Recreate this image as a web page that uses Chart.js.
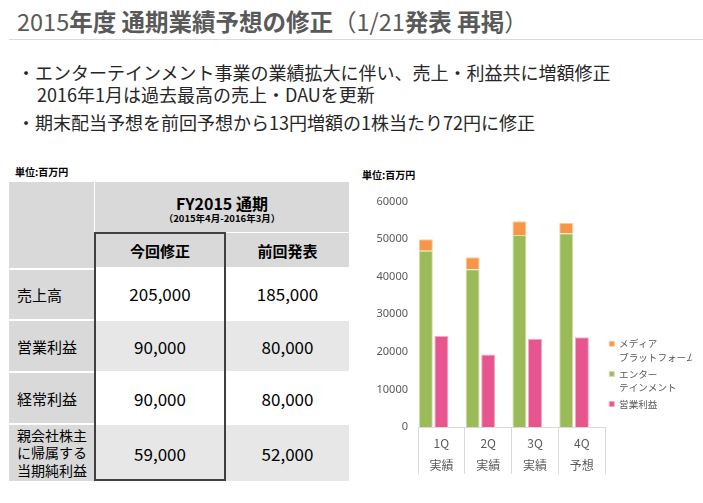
<!DOCTYPE html>
<html><head><meta charset="utf-8">
<script src="https://cdn.jsdelivr.net/npm/chart.js@4"></script>
<style>
html,body{margin:0;padding:0;width:703px;height:503px;overflow:hidden;background:#fff;font-family:"Noto Sans CJK JP","Noto Sans",sans-serif;}
.a{position:absolute;white-space:nowrap;}
#title{left:17px;top:6px;font-size:23.5px;line-height:30px;color:#595959;}
#title b{font-weight:bold;}
#rule{left:9px;top:39px;width:694px;height:1px;background:#D9D9D9;}
.bl{font-size:18px;line-height:24px;color:#262626;}
.unit{font-size:10px;font-weight:bold;color:#000;line-height:14px;}
.cell{position:absolute;display:flex;align-items:center;justify-content:center;box-sizing:border-box;}
.g1{background:#D9D9D9;}
.g2{background:#E7E7E7;}
.w{background:#fff;}
.lab{justify-content:flex-start;padding-left:8px;font-size:15px;color:#000;}
.val{font-size:17px;color:#000;}
.hd{font-size:15px;font-weight:bold;color:#000;}
#box{position:absolute;left:94px;top:232px;width:132px;height:249px;border:2px solid #404040;box-sizing:border-box;}
#chartWrap{position:absolute;left:345px;top:185px;width:358px;height:300px;}
</style>
</head><body>
<div class="a" id="title">2015<b>年度 通期業績予想の修正</b>（1/21<b>発表 再掲</b>）</div>
<div class="a" id="rule"></div>
<div class="a bl" style="left:17px;top:60px;">・エンターテインメント事業の業績拡大に伴い、売上・利益共に増額修正</div>
<div class="a bl" style="left:37px;top:82px;">2016年1月は過去最高の売上・DAUを更新</div>
<div class="a bl" style="left:17px;top:110px;">・期末配当予想を前回予想から13円増額の1株当たり72円に修正</div>

<div class="a unit" style="left:15px;top:165px;">単位:百万円</div>
<div class="a unit" style="left:362px;top:168px;">単位:百万円</div>

<!-- table -->
<div class="cell g1" style="left:9px;top:182px;width:85px;height:86px;"></div>
<div class="cell g1" style="left:95px;top:182px;width:254px;height:50px;flex-direction:column;">
  <div style="font-size:16px;font-weight:bold;line-height:18px;margin-top:4px;">FY2015 通期</div>
  <div style="font-size:9.5px;font-weight:bold;line-height:13px;">（2015年4月-2016年3月）</div>
</div>
<div class="cell g1 hd" style="left:95px;top:233px;width:130px;height:34px;">今回修正</div>
<div class="cell g1 hd" style="left:226px;top:233px;width:123px;height:34px;">前回発表</div>

<div class="cell g1 lab" style="left:9px;top:270px;width:85px;height:49px;">売上高</div>
<div class="cell w val" style="left:95px;top:268px;width:130px;height:51px;" id="v00"></div>
<div class="cell w val" style="left:226px;top:268px;width:123px;height:51px;" id="v01"></div>

<div class="cell g1 lab" style="left:9px;top:321px;width:85px;height:50px;">営業利益</div>
<div class="cell g2 val" style="left:95px;top:321px;width:130px;height:50px;" id="v10"></div>
<div class="cell g2 val" style="left:226px;top:321px;width:123px;height:50px;" id="v11"></div>

<div class="cell g1 lab" style="left:9px;top:373px;width:85px;height:50px;">経常利益</div>
<div class="cell w val" style="left:95px;top:373px;width:130px;height:50px;" id="v20"></div>
<div class="cell w val" style="left:226px;top:373px;width:123px;height:50px;" id="v21"></div>

<div class="cell g1 lab" style="left:9px;top:425px;width:85px;height:56px;font-size:14px;line-height:17.5px;white-space:normal;">親会社株主<br>に帰属する<br>当期純利益</div>
<div class="cell g2 val" style="left:95px;top:425px;width:130px;height:56px;" id="v30"></div>
<div class="cell g2 val" style="left:226px;top:425px;width:123px;height:56px;" id="v31"></div>
<div id="box"></div>

<div id="chartWrap"><canvas id="c" width="358" height="300"></canvas></div>

<script>
// ---- table data ----
const revisedValues = ["205,000", "90,000", "90,000", "59,000"];
const previousValues = ["185,000", "80,000", "80,000", "52,000"];
revisedValues.forEach((v, i) => { document.getElementById('v' + i + '0').textContent = v; });
previousValues.forEach((v, i) => { document.getElementById('v' + i + '1').textContent = v; });

// ---- chart data ----
const quarters = ["1Q", "2Q", "3Q", "4Q"];
const periods = ["実績", "実績", "実績", "予想"];
const entertainment = [46900, 42000, 51100, 51600];
const mediaPlatform = [3100, 3200, 3700, 2800];
const operatingProfit = [24200, 19300, 23500, 23900];
const yTicks = [0, 10000, 20000, 30000, 40000, 50000, 60000];

const labels = quarters.map((q, i) => [q, periods[i]]);
const legendRank = {1: 0, 0: 1, 2: 2};

new Chart(document.getElementById('c'), {
  type: 'bar',
  data: {
    labels: labels,
    datasets: [
      { label: ['エンター', 'テインメント'], data: entertainment, stack: 's',
        backgroundColor: '#9BBB59', borderColor: '#D2E2B4', borderWidth: 1 },
      { label: ['メディア', 'プラットフォーム'], data: mediaPlatform, stack: 's',
        backgroundColor: '#F79646', borderColor: '#FBCBA3', borderWidth: 1 },
      { label: ['営業利益'], data: operatingProfit, stack: 'p',
        backgroundColor: '#E6558D', borderColor: '#F3AAC6', borderWidth: 1 },
      { label: '', data: quarters.map(() => 0), stack: 'z',
        backgroundColor: 'rgba(0,0,0,0)', borderWidth: 0 }
    ]
  },
  options: {
    responsive: false,
    animation: false,
    events: [],
    layout: { padding: { top: 12, bottom: 8, left: 0, right: 11 } },
    datasets: { bar: { categoryPercentage: 1.0, barPercentage: 0.9 } },
    scales: {
      x: {
        type: 'category',
        offset: true,
        grid: { display: true, offset: true, drawOnChartArea: false, drawTicks: true,
                tickLength: 47, color: '#D9D9D9', lineWidth: 1 },
        border: { display: true, color: '#D9D9D9', width: 1 },
        ticks: { padding: -42, color: '#595959', maxRotation: 0, autoSkip: false,
                 font: { family: '"Noto Sans CJK JP", "Noto Sans", sans-serif', size: 12, lineHeight: 1.85 } },
        afterFit: (s) => { s.height = 50; }
      },
      y: {
        stacked: true,
        min: 0, max: 60000,
        afterBuildTicks: (s) => { s.ticks = yTicks.map(v => ({ value: v })); },
        grid: { display: false, drawTicks: false },
        border: { display: false },
        ticks: { padding: 10, color: '#595959', callback: (v) => String(v),
                 font: { family: '"Noto Sans", sans-serif', size: 11 } },
        afterFit: (s) => { s.width = 73; }
      }
    },
    plugins: {
      tooltip: { enabled: false },
      legend: {
        position: 'right',
        align: 'start',
        title: { display: true, text: '', padding: { top: 137, bottom: 0 }, font: { size: 1, lineHeight: 1 } },
        labels: {
          boxWidth: 5, boxHeight: 5, padding: 4, color: '#595959',
          font: { family: '"Noto Sans CJK JP", sans-serif', size: 9.6, lineHeight: 1.36 },
          filter: (item) => item.text !== '' && !(Array.isArray(item.text) && item.text.length === 0),
          sort: (a, b) => legendRank[a.datasetIndex] - legendRank[b.datasetIndex]
        }
      }
    }
  }
});
</script>
</body></html>
